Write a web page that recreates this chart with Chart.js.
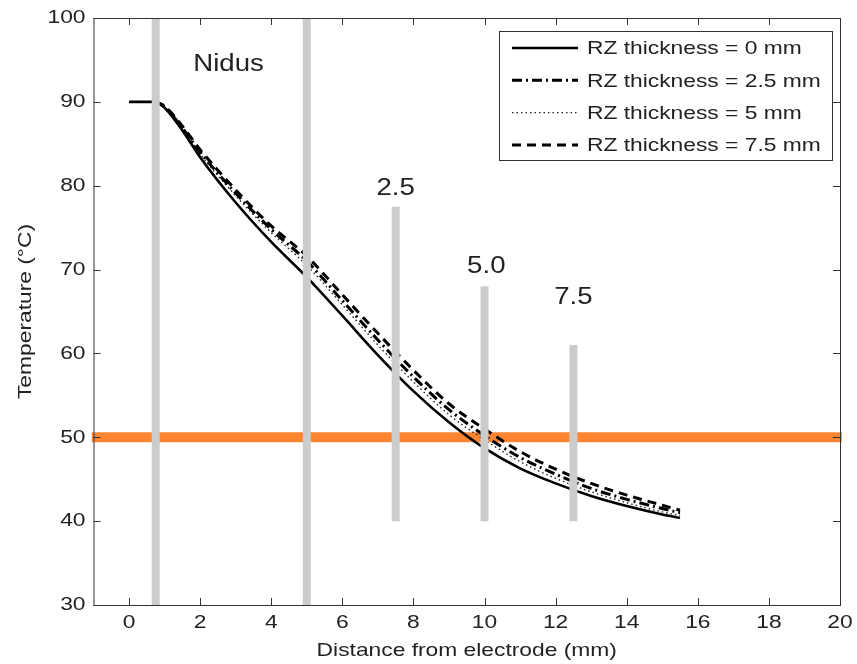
<!DOCTYPE html>
<html>
<head>
<meta charset="utf-8">
<script src="https://cdn.jsdelivr.net/npm/chart.js@4"></script>
<style>
  html, body { margin: 0; padding: 0; background: #fff; }
  #wrap { width: 857px; height: 664px; }
</style>
</head>
<body>
<div id="wrap"><canvas id="chart" width="857" height="664"></canvas></div>
<script>
// --- dados ---
const xTicks = [0, 2, 4, 6, 8, 10, 12, 14, 16, 18, 20];
const yTicks = [30, 40, 50, 60, 70, 80, 90, 100];

const distSolid = [0, 0.75, 1, 1.5, 2, 3, 4, 5, 6, 7, 8, 9, 10, 11, 12, 13, 14, 15, 15.5];
const tempRZ0 = [90, 90, 89.3, 86.6, 83.4, 78, 73.3, 69.1, 64.5, 59.8, 55.5, 51.8, 48.7, 46.3, 44.5, 43, 41.8, 40.8, 40.4];

const distRZ = [0.75, 1, 1.5, 2, 3, 4, 5, 6, 7, 8, 9, 10, 11, 12, 13, 14, 15, 15.5];
const tempRZ25 = [90, 89.4, 86.9, 84.0, 79.1, 74.8, 71, 66.3, 61.6, 57.2, 53.3, 50.2, 47.6, 45.6, 43.9, 42.6, 41.5, 41];
const tempRZ5 = [90, 89.4, 86.8, 83.8, 78.8, 74.4, 70.5, 65.8, 61, 56.6, 52.7, 49.7, 47.1, 45.1, 43.5, 42.2, 41.1, 40.7];
const tempRZ75 = [90, 89.5, 87.1, 84.3, 79.5, 75.2, 71.6, 67, 62.4, 58, 54, 51, 48.3, 46.2, 44.5, 43.1, 41.9, 41.3];

const seriesNames = ["RZ thickness = 0 mm", "RZ thickness = 2.5 mm", "RZ thickness = 5 mm", "RZ thickness = 7.5 mm"];

// barras cinza: posição x, base e topo (°C)
const barX = [0.75, 5, 7.5, 10, 12.5];
const barBottom = [30, 30, 40, 40, 40];
const barTop = [100, 100, 77.5, 68, 61];

const thresholdTemp = 50;

const noteTexts = ["Nidus", "2.5", "5.0", "7.5"];
const noteX = [2.8, 7.5, 10.05, 12.5];
const noteY = [94.4, 79.6, 70.3, 66.7];

const xTitle = "Distance from electrode (mm)";
const yTitle = "Temperature (°C)";

const FONT = "'Liberation Sans', Arial, sans-serif";
const STRETCH = 1.2; // texto do original é mais largo

function pts(xs, ys) {
  return xs.map((x, i) => ({ x: x, y: ys[i] }));
}

// escreve texto esticado na horizontal
function wideText(ctx, text, x, y, align, rot) {
  ctx.save();
  ctx.translate(x, y);
  if (rot) ctx.rotate(rot);
  ctx.scale(STRETCH, 1);
  ctx.textAlign = align;
  ctx.fillText(text, 0, 0);
  ctx.restore();
}

// estilos das curvas
const curveStyles = [
  { color: "#000", width: 2.6, dash: [] },
  { color: "#000", width: 3, dash: [10, 4, 2, 4] },
  { color: "#222", width: 1.4, dash: [1.5, 3] },
  { color: "#000", width: 3, dash: [9, 6] },
];

const curveData = [
  pts(distSolid, tempRZ0),
  pts(distRZ, tempRZ25),
  pts(distRZ, tempRZ5),
  pts(distRZ, tempRZ75),
];

let datasets = [];

// barras cinza (por cima de tudo)
barX.forEach((bx, i) => {
  datasets.push({
    label: "bar" + i,
    data: [{ x: bx, y: barBottom[i] }, { x: bx, y: barTop[i] }],
    borderColor: "#cccccc",
    borderWidth: 8,
    borderCapStyle: "butt",
    pointRadius: 0,
    order: 0,
    clip: false,
  });
});

curveData.forEach((d, i) => {
  datasets.push({
    label: seriesNames[i],
    data: d,
    borderColor: curveStyles[i].color,
    borderWidth: curveStyles[i].width,
    borderDash: curveStyles[i].dash,
    pointRadius: 0,
    cubicInterpolationMode: "monotone",
    order: 1,
  });
});

// linha laranja de 50 °C
datasets.push({
  label: "threshold",
  data: [{ x: -1.05, y: thresholdTemp }, { x: 20.05, y: thresholdTemp }],
  borderColor: "#ff8533",
  borderWidth: 10,
  borderCapStyle: "butt",
  pointRadius: 0,
  order: 2,
  clip: false,
});

// moldura, ticks internos, rótulos, legenda e textos
const framePlugin = {
  id: "frame",
  afterDraw(chart) {
    const ctx = chart.ctx;
    const a = chart.chartArea;
    const xs = chart.scales.x;
    const ys = chart.scales.y;
    ctx.save();
    ctx.strokeStyle = "#333";
    ctx.lineWidth = 1;
    ctx.strokeRect(a.left + 0.5, a.top + 0.5, a.right - a.left, a.bottom - a.top);
    const tl = 7;
    ctx.beginPath();
    xTicks.forEach((v) => {
      const px = Math.round(xs.getPixelForValue(v)) + 0.5;
      ctx.moveTo(px, a.bottom); ctx.lineTo(px, a.bottom - tl);
      ctx.moveTo(px, a.top); ctx.lineTo(px, a.top + tl);
    });
    yTicks.forEach((v) => {
      const py = Math.round(ys.getPixelForValue(v)) + 0.5;
      ctx.moveTo(a.left, py); ctx.lineTo(a.left + tl, py);
      ctx.moveTo(a.right, py); ctx.lineTo(a.right - tl, py);
    });
    ctx.stroke();

    // rótulos dos eixos
    ctx.fillStyle = "#222";
    ctx.font = "19px " + FONT;
    ctx.textBaseline = "middle";
    xTicks.forEach((v) => {
      wideText(ctx, String(v), xs.getPixelForValue(v), a.bottom + 18, "center");
    });
    yTicks.forEach((v) => {
      wideText(ctx, String(v), a.left - 8, ys.getPixelForValue(v), "right");
    });
    wideText(ctx, xTitle, (a.left + a.right) / 2, a.bottom + 46, "center");
    wideText(ctx, yTitle, 26, (a.top + a.bottom) / 2, "center", -Math.PI / 2);

    // textos das zonas
    ctx.font = "23px " + FONT;
    noteTexts.forEach((t, i) => {
      wideText(ctx, t, xs.getPixelForValue(noteX[i]), ys.getPixelForValue(noteY[i]), "center");
    });

    // legenda
    const lx = 499, ly = 31, lw = 333, lh = 129;
    ctx.fillStyle = "#fff";
    ctx.fillRect(lx, ly, lw, lh);
    ctx.strokeStyle = "#333";
    ctx.lineWidth = 1;
    ctx.strokeRect(lx + 0.5, ly + 0.5, lw, lh);
    ctx.font = "19px " + FONT;
    seriesNames.forEach((name, i) => {
      const y = ly + 17 + i * 32.3;
      const st = curveStyles[i];
      ctx.beginPath();
      ctx.setLineDash(st.dash);
      ctx.lineWidth = st.width;
      ctx.strokeStyle = st.color;
      ctx.moveTo(lx + 13, y);
      ctx.lineTo(lx + 79, y);
      ctx.stroke();
      ctx.setLineDash([]);
      ctx.fillStyle = "#222";
      wideText(ctx, name, lx + 88, y + 1, "left");
    });
    ctx.restore();
  },
};

new Chart(document.getElementById("chart"), {
  type: "line",
  data: { datasets: datasets },
  options: {
    responsive: false,
    animation: false,
    layout: { padding: { top: 18, right: 17, left: 0, bottom: 0 } },
    plugins: { legend: { display: false }, tooltip: { enabled: false } },
    scales: {
      x: {
        type: "linear",
        min: -1,
        max: 20,
        afterBuildTicks: (s) => { s.ticks = xTicks.map((v) => ({ value: v })); },
        afterFit: (s) => { s.height = 59; },
        grid: { display: false },
        border: { display: false },
        ticks: { display: false },
      },
      y: {
        type: "linear",
        min: 30,
        max: 100,
        afterBuildTicks: (s) => { s.ticks = yTicks.map((v) => ({ value: v })); },
        afterFit: (s) => { s.width = 93.5; },
        grid: { display: false },
        border: { display: false },
        ticks: { display: false },
      },
    },
  },
  plugins: [framePlugin],
});
</script>
</body>
</html>
